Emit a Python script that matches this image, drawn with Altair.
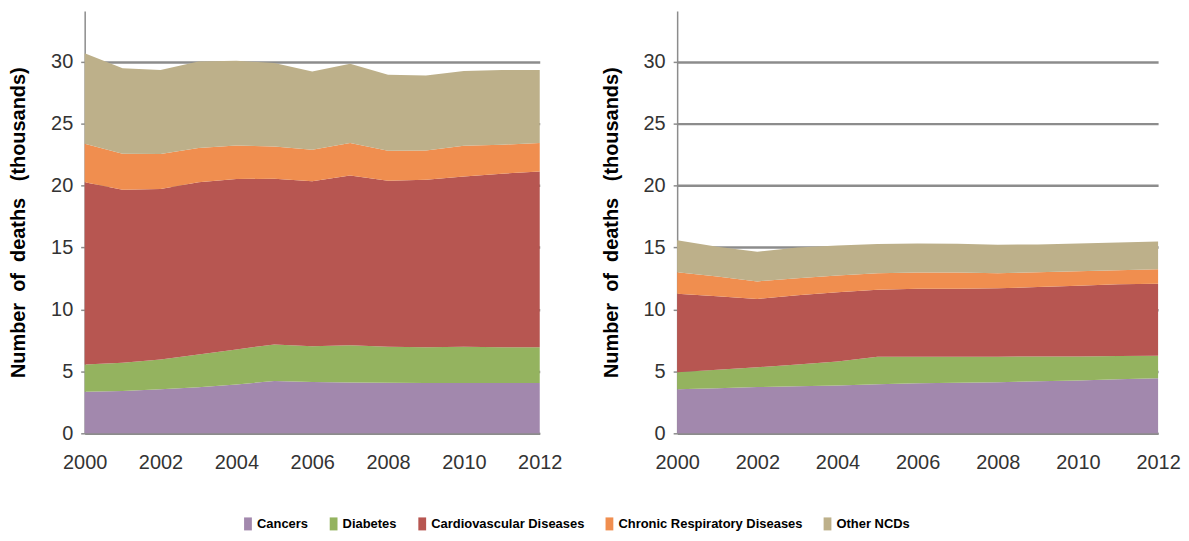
import altair as alt
import pandas as pd

years = list(range(2000, 2013))
series = ["Cancers", "Diabetes", "Cardiovascular Diseases", "Chronic Respiratory Diseases", "Other NCDs"]
colors = ["#A288AD", "#94B35F", "#B75651", "#F08E4F", "#BDB08A"]

# Left panel (thousands of deaths)
left_cancers = [3.36, 3.42, 3.55, 3.72, 3.95, 4.22, 4.14, 4.10, 4.08, 4.07, 4.06, 4.06, 4.06]
left_diabetes = [2.20, 2.28, 2.42, 2.65, 2.82, 2.96, 2.90, 3.02, 2.91, 2.89, 2.93, 2.90, 2.90]
left_cvd = [14.71, 13.98, 13.76, 13.90, 13.77, 13.38, 13.31, 13.71, 13.41, 13.52, 13.76, 14.01, 14.19]
left_chronic = [3.12, 2.90, 2.82, 2.77, 2.71, 2.61, 2.55, 2.61, 2.42, 2.37, 2.48, 2.34, 2.29]
left_other = [7.31, 6.91, 6.80, 6.99, 6.85, 6.73, 6.32, 6.40, 6.13, 6.05, 6.04, 6.04, 5.91]

# Right panel (thousands of deaths)
right_cancers = [3.55, 3.64, 3.73, 3.80, 3.87, 3.96, 4.05, 4.09, 4.13, 4.20, 4.27, 4.36, 4.45]
right_diabetes = [1.38, 1.49, 1.60, 1.75, 1.92, 2.23, 2.14, 2.10, 2.06, 2.00, 1.94, 1.88, 1.82]
right_cvd = [6.35, 5.94, 5.52, 5.60, 5.60, 5.41, 5.49, 5.49, 5.52, 5.61, 5.71, 5.79, 5.81]
right_chronic = [1.73, 1.60, 1.42, 1.38, 1.36, 1.33, 1.31, 1.31, 1.22, 1.20, 1.17, 1.14, 1.17]
right_other = [2.59, 2.40, 2.40, 2.48, 2.42, 2.35, 2.34, 2.32, 2.30, 2.24, 2.24, 2.24, 2.24]

y_ticks = [0, 5, 10, 15, 20, 25, 30]
x_ticks = [2000, 2002, 2004, 2006, 2008, 2010, 2012]
y_title = "Number\u00a0\u00a0of\u00a0\u00a0deaths\u00a0\u00a0\u00a0(thousands)"

FONT = "Liberation Sans, Arial, sans-serif"


def to_frame(lists):
    rows = []
    for i, (name, vals) in enumerate(zip(series, lists)):
        for yr, v in zip(years, vals):
            rows.append({"year": yr, "value": v, "cause": name, "ord": i})
    return pd.DataFrame(rows)


left_df = to_frame([left_cancers, left_diabetes, left_cvd, left_chronic, left_other])
right_df = to_frame([right_cancers, right_diabetes, right_cvd, right_chronic, right_other])


def panel(df, width, show_legend):
    legend = alt.Legend(
        orient="none", legendX=157, legendY=508, direction="horizontal", columns=5,
        title=None, symbolType="M-0.6,-1H0.6V1H-0.6Z", symbolSize=170,
        symbolStrokeWidth=0, labelFont=FONT, labelFontSize=13, labelFontWeight="bold",
        labelColor="#000000", columnPadding=18, labelOffset=2, symbolOpacity=1,
        labelLimit=0,
    ) if show_legend else None
    return alt.Chart(df).mark_area(opacity=1, interpolate="linear").encode(
        x=alt.X("year:Q", scale=alt.Scale(domain=[2000, 2012], nice=False),
                axis=alt.Axis(values=x_ticks, format="d", title=None, grid=False,
                              labelFlush=False, labelFont=FONT, labelFontSize=20,
                              labelColor="#333333", labelPadding=19, ticks=False,
                              domainColor="#8c8c8c", domainWidth=1.5)),
        y=alt.Y("value:Q", stack="zero", scale=alt.Scale(domain=[0, 34.1], nice=False),
                axis=alt.Axis(values=y_ticks, title=y_title, titleFont=FONT,
                              titleFontSize=20, titleFontWeight="bold", titleColor="#000000",
                              titlePadding=22, labelFont=FONT, labelFontSize=20,
                              labelColor="#333333", labelPadding=8, ticks=True, tickSize=4,
                              tickColor="#8c8c8c", tickWidth=1.5,
                              gridColor="#8c8c8c", gridWidth=2.5, domainColor="#8c8c8c",
                              domainWidth=1.5, titleLimit=0)),
        color=alt.Color("cause:N", scale=alt.Scale(domain=series, range=colors),
                        sort=series, legend=legend),
        order=alt.Order("ord:Q", sort="ascending"),
    ).properties(width=width, height=424)


chart = alt.hconcat(
    panel(left_df, 457, True),
    panel(right_df, 483, False),
    spacing=38,
).resolve_scale(color="shared").properties(
    padding={"top": 2, "left": 0, "right": 0, "bottom": 0}
).configure_view(stroke=None)

chart.save("out.html", embed_options={"renderer": "svg", "actions": False})
